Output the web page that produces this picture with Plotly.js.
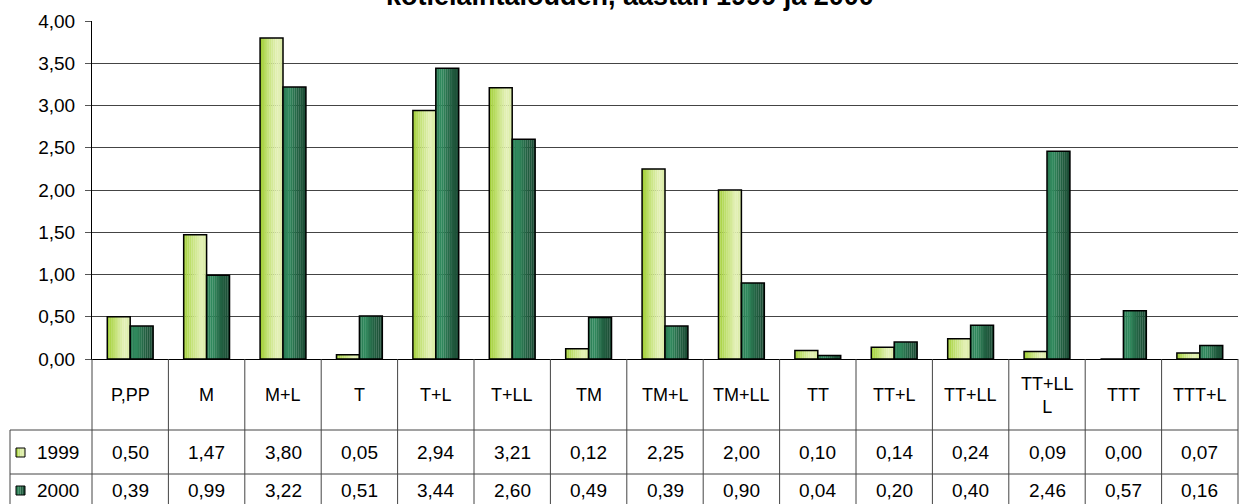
<!DOCTYPE html>
<html><head><meta charset="utf-8">
<script src="https://cdn.plot.ly/plotly-3.0.1.min.js"></script>
<style>html,body{margin:0;padding:0;background:#fff}#chart{width:1247px;height:504px}</style>
</head><body><div id="chart"></div>
<script>
const titleText = "kotieläintalouden, aastan 1999 ja 2000";
const categories = ["P,PP","M","M+L","T","T+L","T+LL","TM","TM+L","TM+LL","TT","TT+L","TT+LL","TT+LLL","TTT","TTT+L"];
const headerLabels = ["P,PP","M","M+L","T","T+L","T+LL","TM","TM+L","TM+LL","TT","TT+L","TT+LL","TT+LL<br>L","TTT","TTT+L"];
const seriesNames = ["1999","2000"];
const values1999 = [0.50,1.47,3.80,0.05,2.94,3.21,0.12,2.25,2.00,0.10,0.14,0.24,0.09,0.00,0.07];
const values2000 = [0.39,0.99,3.22,0.51,3.44,2.60,0.49,0.39,0.90,0.04,0.20,0.40,2.46,0.57,0.16];
const yTicks = [0,0.5,1,1.5,2,2.5,3,3.5,4];

const W = 1247, H = 504;
const mL = 92, mR = 9, mT = 21, mB = 145;
const pw = W - mL - mR, ph = H - mT - mB;
const px = x => (x - mL) / pw;
const py = y => (H - mB - y) / ph;
const fmt = v => v.toFixed(2).replace(".", ",");

// gradient stops (style only)
const grad1999 = [[0,[160,206,50]],[0.35,[196,226,120]],[0.75,[228,241,184]],[1,[214,233,158]]];
const grad2000 = [[0,[40,120,80]],[0.25,[50,140,95]],[0.6,[36,100,68]],[1,[26,72,50]]];
function gcol(stops, t){
  for (let i=1;i<stops.length;i++){
    if (t<=stops[i][0]){
      const a=stops[i-1], b=stops[i], f=(t-a[0])/(b[0]-a[0]);
      const c=a[1].map((v,k)=>Math.round(v+(b[1][k]-v)*f));
      return "rgb("+c.join(",")+")";
    }
  }
  return "rgb("+stops[stops.length-1][1].join(",")+")";
}

const barW = 0.30;
const N = 12;
const traces = [];
function addSeries(vals, offset, stops, name){
  for (let s=0;s<N;s++){
    traces.push({type:"bar", name:name, x:categories, y:vals, offset:offset + s*barW/N, width:barW/N + 0.002,
      marker:{color:gcol(stops,(s+0.5)/N), line:{width:0}}, hoverinfo:"skip", showlegend:false});
  }
  traces.push({type:"bar", name:name, x:categories, y:vals, offset:offset, width:barW,
    marker:{color:"rgba(0,0,0,0)", line:{color:"#000", width:1.5}}, showlegend:false});
}
addSeries(values1999, -barW, grad1999, seriesNames[0]);
addSeries(values2000, 0, grad2000, seriesNames[1]);

const shapes = [];
const annotations = [];
const lineStyle = {color:"#444", width:1};
const yHead = py(430), yRow1 = py(474), yBottom = py(504);
for (let i = 0; i <= categories.length; i++) {
  const xv = i / categories.length;
  shapes.push({type:"line", xref:"paper", yref:"paper", x0:xv, x1:xv, y0:0, y1:yBottom, line:lineStyle});
}
shapes.push({type:"line", xref:"paper", yref:"paper", x0:px(10), x1:px(10), y0:yHead, y1:yBottom, line:lineStyle});
shapes.push({type:"line", xref:"paper", yref:"paper", x0:px(10), x1:1, y0:yHead, y1:yHead, line:lineStyle});
shapes.push({type:"line", xref:"paper", yref:"paper", x0:px(10), x1:1, y0:yRow1, y1:yRow1, line:lineStyle});

// legend keys
const keyStops = [grad1999, grad2000];
const rowCenters = [452, 490];
rowCenters.forEach((cy, k) => {
  const x0 = 16, x1 = 25, kn = 4;
  for (let s=0;s<kn;s++){
    shapes.push({type:"rect", xref:"paper", yref:"paper", x0:px(x0+(x1-x0)*s/kn), x1:px(x0+(x1-x0)*(s+1)/kn),
      y0:py(cy+5), y1:py(cy-4), fillcolor:gcol(keyStops[k],(s+0.5)/kn), line:{width:0}});
  }
  shapes.push({type:"rect", xref:"paper", yref:"paper", x0:px(x0), x1:px(x1), y0:py(cy+5), y1:py(cy-4),
    fillcolor:"rgba(0,0,0,0)", line:{color:"#000", width:1}});
  annotations.push({xref:"paper", yref:"paper", x:px(35), y:py(cy), xanchor:"left", yanchor:"middle",
    text:seriesNames[k], showarrow:false, font:{size:19}});
});

categories.forEach((c, i) => {
  annotations.push({xref:"x", yref:"paper", x:c, y:py(395), xanchor:"center", yanchor:"middle",
    text:headerLabels[i], showarrow:false, font:{size:18}});
  annotations.push({xref:"x", yref:"paper", x:c, y:py(452), xanchor:"center", yanchor:"middle",
    text:fmt(values1999[i]), showarrow:false, font:{size:19}});
  annotations.push({xref:"x", yref:"paper", x:c, y:py(490), xanchor:"center", yanchor:"middle",
    text:fmt(values2000[i]), showarrow:false, font:{size:19}});
});

// chart title (top partially outside the page, as in the reference)
annotations.push({xref:"paper", yref:"paper", x:px(630), y:py(13), xanchor:"center", yanchor:"bottom",
  text:"<b>"+titleText+"</b>", showarrow:false, font:{size:27, color:"#000"}});

const layout = {
  width:W, height:H,
  margin:{l:mL, r:mR, t:mT, b:mB, pad:0},
  paper_bgcolor:"#fff", plot_bgcolor:"#fff",
  font:{family:"Liberation Sans, Arial, sans-serif", color:"#000", size:19},
  separators:", ",
  showlegend:false,
  barmode:"overlay",
  xaxis:{type:"category", showticklabels:false, ticks:"", showgrid:false, zeroline:false,
    showline:true, linecolor:"#000", linewidth:1, range:[-0.5, categories.length-0.5]},
  yaxis:{range:[0,4], tickvals:yTicks, tickformat:".2f", ticks:"outside", ticklen:6, tickcolor:"#555",
    ticklabelstandoff:6,
    showgrid:true, gridcolor:"#444", gridwidth:1, showline:true, linecolor:"#000", linewidth:1,
    zeroline:false, tickfont:{size:19}},
  shapes:shapes,
  annotations:annotations
};

Plotly.newPlot("chart", traces, layout, {displayModeBar:false, staticPlot:true});
</script></body></html>
